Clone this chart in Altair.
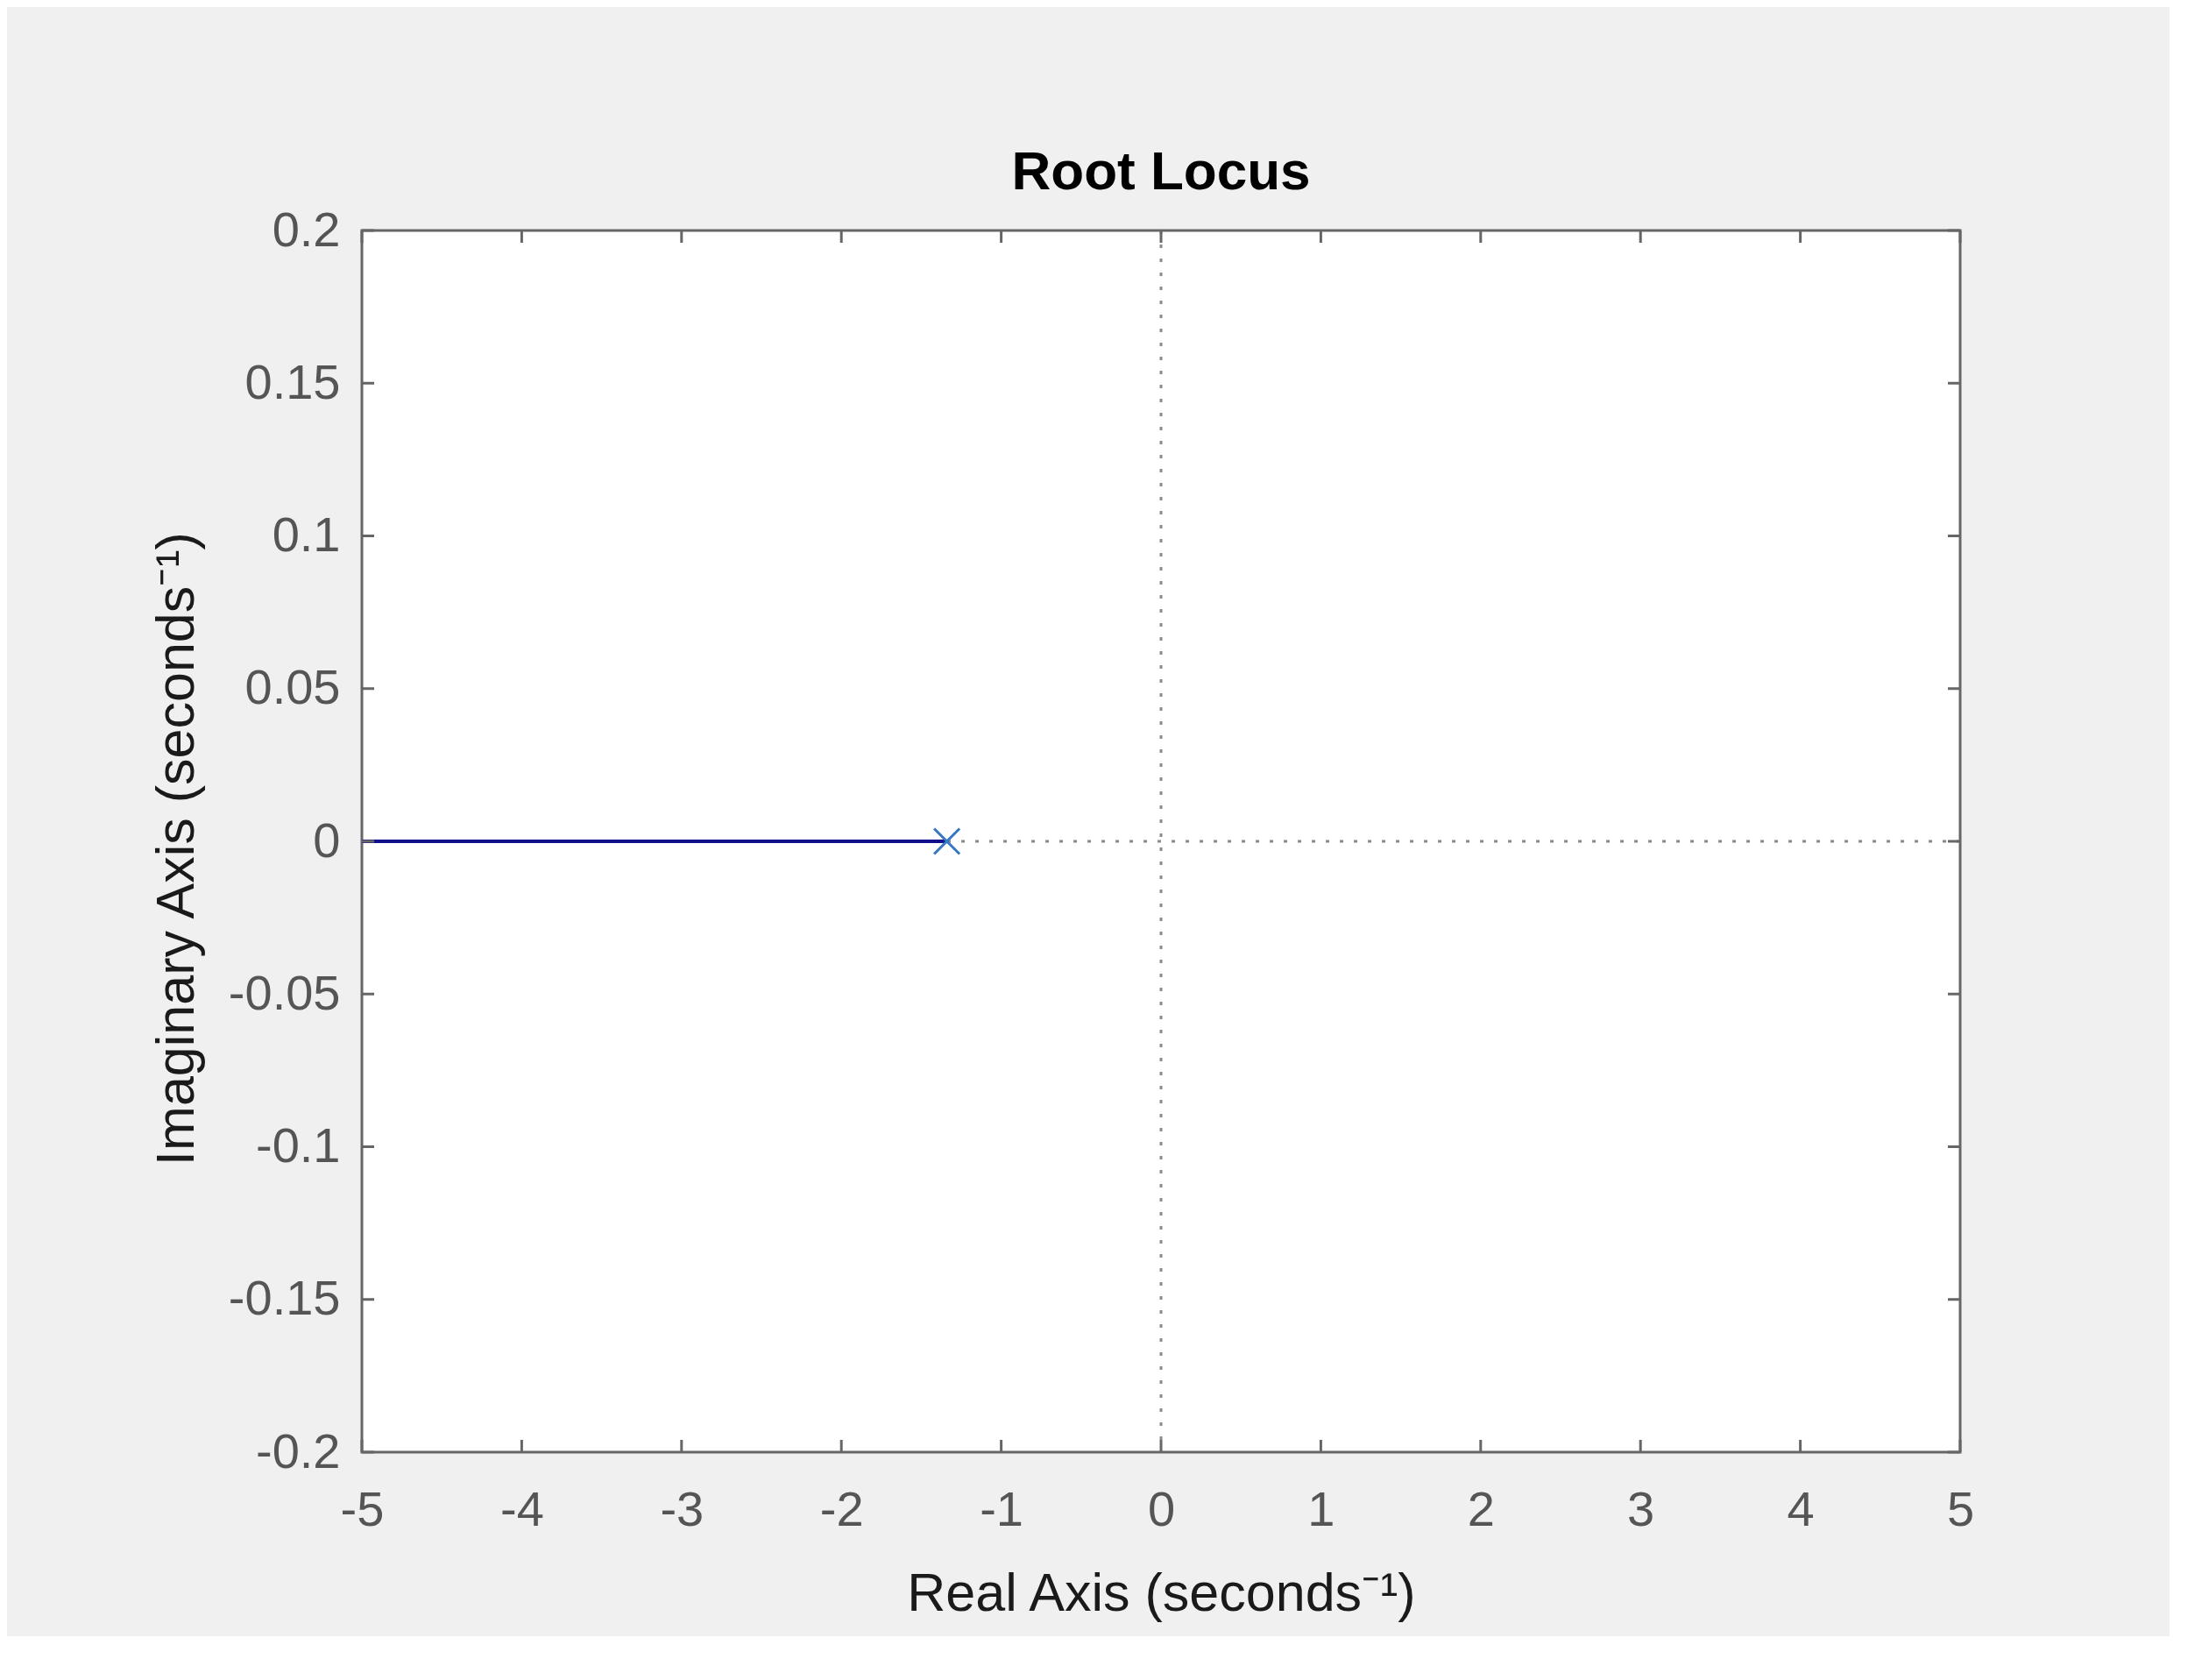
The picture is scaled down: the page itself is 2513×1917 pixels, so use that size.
import altair as alt
import pandas as pd

# ---- data ----
real_ticks = [-5, -4, -3, -2, -1, 0, 1, 2, 3, 4, 5]
imag_ticks = [-0.2, -0.15, -0.1, -0.05, 0, 0.05, 0.1, 0.15, 0.2]
locus_real = [-5.0, -1.34]
locus_imag = [0.0, 0.0]
pole_real = [-1.34]
pole_imag = [0.0]
zero_line = [0]

W, H = 1824, 1394
FONT = "Liberation Sans"
TICK = 14
FRAME = "#666666"
LABEL = "#555555"

xscale = alt.Scale(domain=[-5, 5], nice=False, zero=False)
yscale = alt.Scale(domain=[-0.2, 0.2], nice=False, zero=False)

xaxis = alt.Axis(
    title="Real Axis (seconds⁻¹)",
    values=real_ticks,
    labelExpr="'' + datum.value",
    domain=False, ticks=False, grid=False,
    labelFont=FONT, labelFontSize=56, labelColor=LABEL,
    labelPadding=39, labelFlush=False, labelOverlap=False,
    titleFont=FONT, titleFontSize=61, titleFontWeight="normal", titleColor="#1a1a1a",
    titleBaseline="alphabetic", titleY=180,
)
yaxis = alt.Axis(
    title="Imaginary Axis (seconds⁻¹)",
    values=imag_ticks,
    labelExpr="'' + datum.value",
    domain=False, ticks=False, grid=False,
    labelFont=FONT, labelFontSize=56, labelColor=LABEL,
    labelPadding=25, labelFlush=False, labelOverlap=False,
    titleFont=FONT, titleFontSize=61, titleFontWeight="normal", titleColor="#1a1a1a",
    titleBaseline="alphabetic", titleAngle=270, titleX=-193, titleY=H / 2 + 8,
    titleAlign="center",
)

X = lambda: alt.X("re:Q", scale=xscale, axis=xaxis)
Y = lambda: alt.Y("im:Q", scale=yscale, axis=yaxis)

dotted = dict(color="#8a8a8a", strokeWidth=3, strokeDash=[4, 12])

vzero = alt.Chart(pd.DataFrame({"re": zero_line})).mark_rule(**dotted).encode(x=X())
hzero = alt.Chart(pd.DataFrame({"im": zero_line})).mark_rule(**dotted).encode(y=Y())

locus = alt.Chart(pd.DataFrame({"re": locus_real, "im": locus_imag})).mark_line(
    color="#10108a", strokeWidth=4, clip=True
).encode(x=X(), y=Y())

pole = alt.Chart(pd.DataFrame({"re": pole_real, "im": pole_imag})).mark_point(
    shape="M-1,-1L1,1M-1,1L1,-1", size=841, filled=False,
    color="#3477c4", strokeWidth=3, opacity=1
).encode(x=X(), y=Y())

xt = pd.DataFrame({"re": real_ticks})
yt = pd.DataFrame({"im": imag_ticks})
tick_style = dict(color=FRAME, strokeWidth=3)

tb = alt.Chart(xt).mark_rule(**tick_style).encode(x=X(), y=alt.value(H), y2=alt.value(H - TICK))
tt = alt.Chart(xt).mark_rule(**tick_style).encode(x=X(), y=alt.value(0), y2=alt.value(TICK))
tl = alt.Chart(yt).mark_rule(**tick_style).encode(y=Y(), x=alt.value(0), x2=alt.value(TICK))
tr = alt.Chart(yt).mark_rule(**tick_style).encode(y=Y(), x=alt.value(W - TICK), x2=alt.value(W))

chart = alt.layer(vzero, hzero, locus, pole, tb, tt, tl, tr).properties(
    width=W,
    height=H,
    title=alt.TitleParams(
        "Root Locus", font=FONT, fontSize=62, fontWeight="bold", color="#000000",
        anchor="middle", frame="group", baseline="alphabetic", offset=45, dy=88,
    ),
    padding={"left": 405, "top": 255, "right": 239, "bottom": 210},
    autosize=alt.AutoSizeParams(type="none"),
    background="#f0f0f0",
).configure_view(fill="white", stroke=FRAME, strokeWidth=3)

chart.save("out.html", embed_options={"renderer": "svg", "actions": False})
